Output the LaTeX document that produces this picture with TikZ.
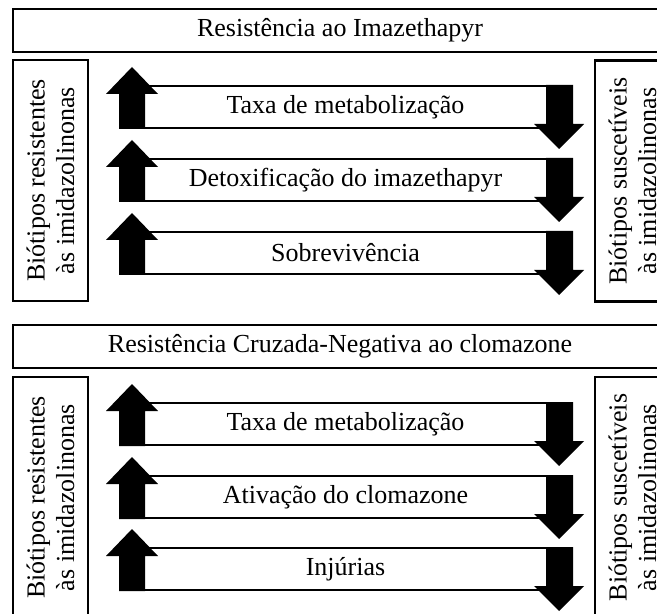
\documentclass[tikz,border=0pt]{standalone}
\usepackage{fontspec}
\setmainfont{Liberation Serif}

\begin{document}
\begin{tikzpicture}[
  x=0.5pt,
  y=-0.5pt,
  every node/.style={font=\fontsize{13}{14.8}\selectfont, text=black},
  titlebox/.style={draw, line width=1.4pt, minimum width=327pt,
                   minimum height=21.5pt, inner sep=0pt},
  sidebox/.style={draw, line width=1.4pt, rotate=90, align=center,
                  minimum width=120.5pt, minimum height=37.5pt, inner sep=0pt},
  strip/.style={draw, line width=1pt, fill=white, minimum width=212.5pt,
                minimum height=21pt, inner sep=0pt},
  blockarrow/.style={fill=black}
]
  \useasboundingbox (0,0) rectangle (657,614);
  \clip (0,0) rectangle (657,614);

  % ---- upper panel ----------------------------------------------------
  \node[titlebox] (titleA) at (340,30.5) {Resistência ao Imazethapyr};
  \node[sidebox] (resA) at (50.5,180.5)
    {Biótipos resistentes\\às imidazolinonas};
  \node[sidebox] (susA) at (632.5,181)
    {Biótipos suscetíveis\\às imidazolinonas};
  \node[strip] (taxaA)   at (345.5,107) {Taxa de metabolização};
  \node[strip] (detoxA)  at (345.5,180) {Detoxificação do imazethapyr};
  \node[strip] (sobrevA) at (345.5,253) {Sobrevivência};

  % ---- lower panel ----------------------------------------------------
  \node[titlebox] (titleB) at (340,346.5)
    {Resistência Cruzada-Negativa ao clomazone};
  \node[sidebox] (resB) at (50.5,497.5)
    {Biótipos resistentes\\às imidazolinonas};
  \node[sidebox] (susB) at (632.5,497.5)
    {Biótipos suscetíveis\\às imidazolinonas};
  \node[strip] (taxaB) at (345.5,424) {Taxa de metabolização};
  \node[strip] (ativB) at (345.5,497) {Ativação do clomazone};
  \node[strip] (injB)  at (345.5,569) {Injúrias};

  % ---- up arrow at the left end, down arrow at the right end ----------
  \foreach \s in {taxaA, detoxA, sobrevA, taxaB, ativB, injB} {
    \fill[blockarrow]
      ([xshift=-6.5pt]\s.south west)
      -- ([xshift=-6.5pt, yshift=-4.5pt]\s.north west)
      -- ([xshift=-13pt, yshift=-4.5pt]\s.north west)
      -- ([yshift=9pt]\s.north west)
      -- ([xshift=13pt, yshift=-4.5pt]\s.north west)
      -- ([xshift=6.5pt, yshift=-4.5pt]\s.north west)
      -- ([xshift=6.5pt]\s.south west) -- cycle;
    \fill[blockarrow]
      ([xshift=-6.5pt]\s.north east)
      -- ([xshift=-6.5pt, yshift=2.5pt]\s.south east)
      -- ([xshift=-12.5pt, yshift=2.5pt]\s.south east)
      -- ([yshift=-10pt]\s.south east)
      -- ([xshift=12.5pt, yshift=2.5pt]\s.south east)
      -- ([xshift=7pt, yshift=2.5pt]\s.south east)
      -- ([xshift=7pt]\s.north east) -- cycle;
  }
\end{tikzpicture}
\end{document}
